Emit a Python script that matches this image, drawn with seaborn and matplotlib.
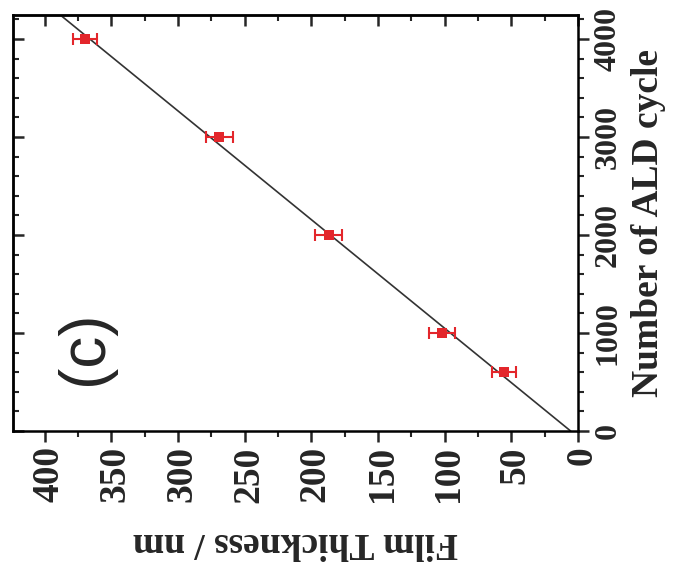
import numpy as np
import pandas as pd
import matplotlib
matplotlib.use("Agg")
import matplotlib.pyplot as plt
from matplotlib.ticker import MultipleLocator
import seaborn as sns

# data
cycles = [600, 1000, 2000, 3000, 4000]
thickness = [55.5, 102, 187, 269, 370]
thickness_err = [9, 10, 10, 10, 9]
thickness_ticks = [0, 50, 100, 150, 200, 250, 300, 350, 400]
cycle_ticks = [0, 1000, 2000, 3000, 4000]

sns.set_theme(style="ticks")
plt.rcParams['font.family'] = ['Liberation Serif', 'DejaVu Serif']
plt.rcParams['font.weight'] = 'bold'

df = pd.DataFrame({"cycles": cycles, "thickness": thickness, "err": thickness_err})

# linear fit (thickness vs cycles)
b, a = np.polyfit(cycles, thickness, 1)
fit_c = np.array([0, 4400])
fit_df = pd.DataFrame({"cycles": fit_c, "thickness": a + b * fit_c})

fig = plt.figure(figsize=(6.77, 5.76), dpi=100)
ax = fig.add_axes([0.0188, 0.2517, 0.835, 0.7223])

red = "#e3262b"
sns.lineplot(data=fit_df, x="thickness", y="cycles", estimator=None, sort=False,
             color="#333333", lw=1.2, ax=ax)
ax.errorbar(df["thickness"], df["cycles"], xerr=df["err"], fmt="none",
            ecolor=red, elinewidth=1.5, capsize=4, capthick=1.5, zorder=3)
sns.scatterplot(data=df, x="thickness", y="cycles", marker="s", s=60,
                color=red, edgecolor=red, linewidth=0, ax=ax, zorder=4)

ax.set_xlim(424, 0)
ax.set_ylim(0, 4245)

ax.set_xticks(thickness_ticks)
ax.set_xticklabels([str(t) for t in thickness_ticks], rotation=90,
                   rotation_mode='anchor', fontsize=27, fontweight='bold',
                   ha='right', va='center_baseline')
ax.xaxis.set_minor_locator(MultipleLocator(25))

ax.yaxis.tick_right()
ax.yaxis.set_label_position('right')
ax.set_yticks(cycle_ticks)
ax.set_yticklabels([str(t) for t in cycle_ticks], rotation=90,
                   fontsize=23, fontweight='bold', va='center')
ax.yaxis.set_minor_locator(MultipleLocator(200))

ax.tick_params(axis='both', which='major', direction='out', length=8, width=1.8, pad=3)
ax.tick_params(axis='both', which='minor', direction='out', length=4, width=1.5)

for s in ax.spines.values():
    s.set_linewidth(1.8)
    s.set_color('black')

# mirrored inward ticks on top and left
top = ax.secondary_xaxis('top')
top.xaxis.set_major_locator(MultipleLocator(50))
top.xaxis.set_minor_locator(MultipleLocator(25))
top.tick_params(which='major', direction='in', length=8, width=1.8, labeltop=False)
top.tick_params(which='minor', direction='in', length=4, width=1.5)
top.spines['top'].set_linewidth(1.8)

left = ax.secondary_yaxis('left')
left.yaxis.set_major_locator(MultipleLocator(1000))
left.yaxis.set_minor_locator(MultipleLocator(200))
left.tick_params(which='major', direction='in', length=8, width=1.8, labelleft=False)
left.tick_params(which='minor', direction='in', length=4, width=1.5)
left.spines['left'].set_linewidth(1.8)

ax.set_xlabel("Film Thickness / nm", rotation=180, fontsize=27,
              fontweight='bold', labelpad=16)
ax.set_ylabel("Number of ALD cycle", rotation=90, fontsize=27,
              fontweight='bold', labelpad=6)

ax.text(0.128, 0.2, "(c)", transform=ax.transAxes, rotation=90,
        ha='center', va='center', fontsize=46, fontweight='normal',
        family=['Liberation Sans', 'DejaVu Sans'])

fig.savefig("out.png", dpi=100)
